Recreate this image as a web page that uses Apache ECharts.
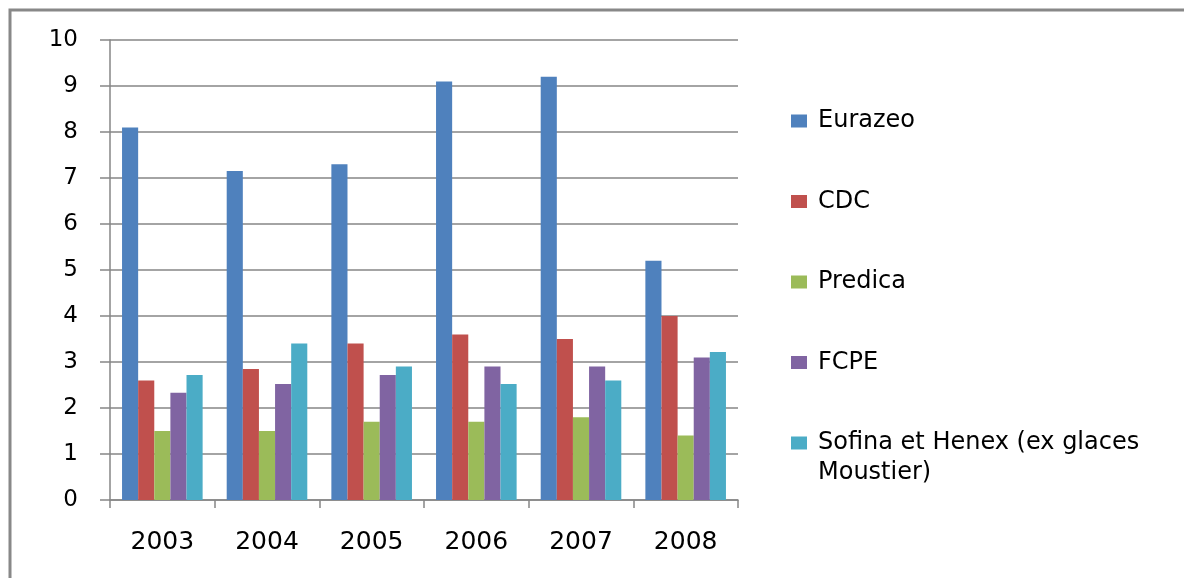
<!DOCTYPE html>
<html>
<head>
<meta charset="utf-8">
<script src="https://cdn.jsdelivr.net/npm/echarts@6/dist/echarts.min.js"></script>
<style>
  html, body { margin: 0; padding: 0; background: #fff; }
  #main { width: 1184px; height: 578px; }
</style>
</head>
<body>
<div id="main"></div>
<script>
// données
var years = ['2003', '2004', '2005', '2006', '2007', '2008']
var eurazeo = [8.1, 7.15, 7.3, 9.1, 9.2, 5.2]
var cdc = [2.6, 2.85, 3.4, 3.6, 3.5, 4.0]
var predica = [1.5, 1.5, 1.7, 1.7, 1.8, 1.4]
var fcpe = [2.33, 2.52, 2.72, 2.9, 2.9, 3.1]
var sofina = [2.72, 3.4, 2.9, 2.52, 2.6, 3.22]
var yTicks = [0, 1, 2, 3, 4, 5, 6, 7, 8, 9, 10]

var names = ['Eurazeo', 'CDC', 'Predica', 'FCPE', 'Sofina et Henex (ex glaces Moustier)']
var colors = ['#4F81BD', '#C0504D', '#9BBB59', '#8064A2', '#4BACC6']
var values = [eurazeo, cdc, predica, fcpe, sofina]

var gray = '#868686'
var font = 'DejaVu Sans'

var myChart = echarts.init(document.getElementById('main'))

var series = names.map(function (n, i) {
  return {
    name: n,
    type: 'bar',
    data: values[i],
    itemStyle: { color: colors[i] },
    barGap: '0%',
    barCategoryGap: '23%'
  }
})

var legendBase = {
  orient: 'vertical',
  left: 786,
  itemWidth: 16,
  itemHeight: 13,
  icon: 'rect',
  selectedMode: false,
  textStyle: {
    fontFamily: font,
    fontSize: 24,
    lineHeight: 30,
    color: '#000',
    padding: [0, 0, 0, 6]
  }
}

var option = {
  animation: false,
  backgroundColor: '#fff',
  color: colors,
  textStyle: { fontFamily: font },
  grid: { left: 110, top: 40, right: 446, bottom: 78, containLabel: false },
  legend: [
    Object.assign({}, legendBase, {
      top: 101,
      itemGap: 50.5,
      data: names.slice(0, 4)
    }),
    Object.assign({}, legendBase, {
      top: 393,
      data: names.slice(4),
      // ligne vide en tête pour aligner la 1re ligne sur le carré
      formatter: function () { return ' \nSofina et Henex (ex glaces\nMoustier)' }
    })
  ],
  graphic: [{
    type: 'rect',
    shape: { x: 10, y: 10, width: 1400, height: 800 },
    style: { fill: 'none', stroke: '#888', lineWidth: 3 },
    silent: true
  }],
  xAxis: {
    type: 'category',
    data: years,
    axisLine: { lineStyle: { color: gray, width: 1.5 } },
    axisTick: { show: true, length: 8, lineStyle: { color: gray, width: 1.5 } },
    axisLabel: { fontFamily: font, fontSize: 25, color: '#000', margin: 30 }
  },
  yAxis: {
    type: 'value',
    min: yTicks[0],
    max: yTicks[yTicks.length - 1],
    interval: 1,
    axisLine: { show: true, lineStyle: { color: gray, width: 1.5 } },
    axisTick: { show: true, length: 10, lineStyle: { color: gray, width: 1.5 } },
    axisLabel: { fontFamily: font, fontSize: 23, color: '#000', margin: 32 },
    splitLine: { lineStyle: { color: gray, width: 1.5 } }
  },
  series: series
}

myChart.setOption(option)
</script>
</body>
</html>
